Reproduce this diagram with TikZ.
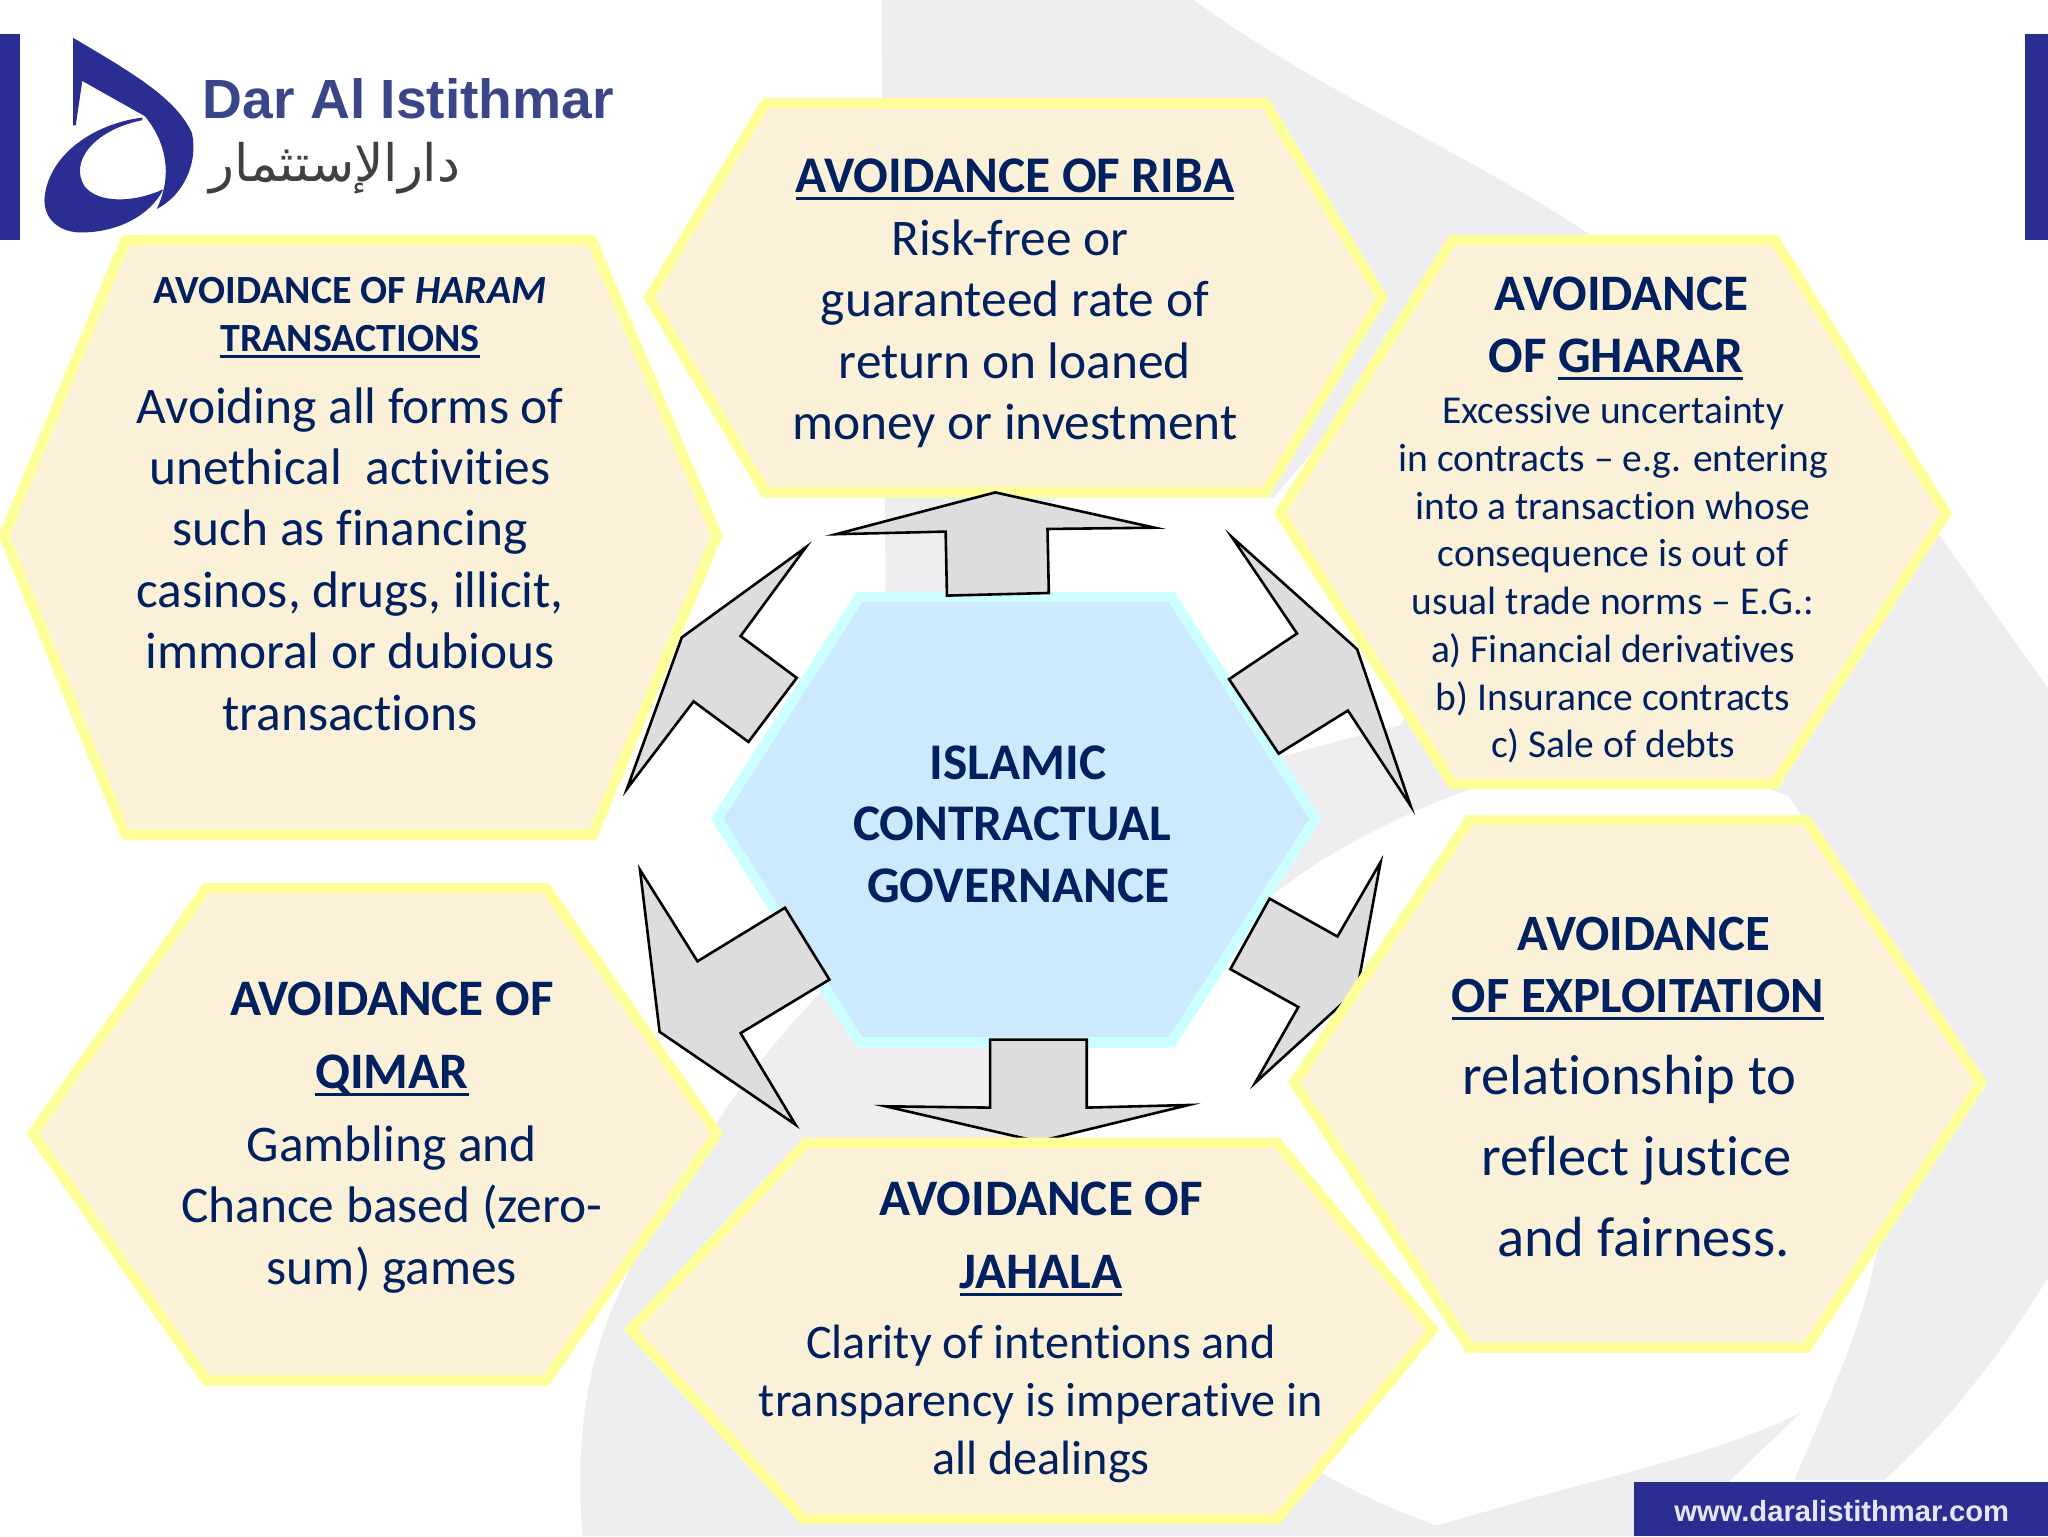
\documentclass[tikz,border=0pt]{standalone}
\usepackage{fontspec}
\setmainfont{Carlito}[Ligatures=NoCommon]
\newfontfamily\logofont{Liberation Sans}
\newfontfamily\arabicfont[Script=Arabic]{DejaVu Sans}
\TeXXeTstate=1
\newsavebox\ULbox
\newcommand\UL[1]{\sbox\ULbox{#1}\rlap{\rule[-3.6pt]{\wd\ULbox}{1.5pt}}\usebox\ULbox}
\definecolor{navy}{HTML}{002060}
\definecolor{parchment}{HTML}{FBF1D8}
\definecolor{hexyellow}{HTML}{FFFF99}
\definecolor{hexblue}{HTML}{CCE9FD}
\definecolor{hexcyan}{HTML}{CCFFFF}
\definecolor{arrowgrey}{HTML}{DDDDDF}
\definecolor{markgrey}{HTML}{EEEEF0}
\definecolor{brandblue}{HTML}{2A2E92}
\definecolor{brandtext}{HTML}{3A4688}
\begin{document}
\begin{tikzpicture}[x=0.65306pt, y=-0.65306pt,
  hexface/.style={draw=hexyellow, fill=parchment, line width=5.2pt, miter limit=10},
  hexcore/.style={draw=hexcyan, fill=hexblue, line width=5.2pt},
  blockarrow/.style={draw=black, fill=arrowgrey, line width=1.3pt, miter limit=20},
  brandbar/.style={fill=brandblue},
  bodytext/.style={text=navy, align=center, inner sep=0pt, font=\fontsize{25.7}{30.7}\selectfont},
  headtext/.style={bodytext, font=\bfseries\fontsize{25.7}{30.7}\selectfont},
  headgap/.style={bodytext, font=\bfseries\fontsize{25.6}{36.6}\selectfont},
  smallhead/.style={bodytext, font=\bfseries\fontsize{20}{23.7}\selectfont},
  smalltext/.style={bodytext, font=\fontsize{19.75}{23.85}\selectfont}]

  \newcommand\LS[1]{\hspace*{#1pt}}

  \useasboundingbox (0,0) rectangle (1568,1176);
  \fill[white] (0,0) rectangle (1568,1176);

  \fill[markgrey] (675,0) -- (914,0)
  .. controls (1010,70) and (1110,110) .. (1212,176)
  .. controls (1320,250) and (1420,320) .. (1485,410)
  -- (1568,527) -- (1568,978)
  .. controls (1530,1040) and (1490,1090) .. (1443,1133)
  -- (1374,1133)
  .. controls (1400,1070) and (1425,1020) .. (1436,962)
  .. controls (1460,830) and (1440,720) .. (1370,610)
  .. controls (1300,580) and (1200,575) .. (1118,607)
  .. controls (1070,625) and (1020,650) .. (980,681)
  .. controls (920,720) and (860,760) .. (825,802)
  -- (790,850)
  .. controls (770,900) and (900,1100) .. (1100,1168)
  -- (1149,1154)
  .. controls (1230,1130) and (1310,1115) .. (1378,1082)
  -- (1325,1133) -- (1290,1176) -- (446,1176)
  .. controls (440,1100) and (450,1040) .. (475,988)
  .. controls (495,940) and (520,900) .. (549,860)
  .. controls (570,825) and (600,790) .. (628,760)
  .. controls (720,660) and (860,600) .. (982,579)
  .. controls (1015,570) and (1045,562) .. (1072,555)
  -- (1110,500) -- (1040,330) -- (1010,340)
  -- (975,381) -- (820,370) -- (790,400) -- (770,456)
  -- (678,460) -- cycle;

  \fill[brandbar] (0,26) rectangle (15,184);
  \fill[brandbar] (1550,26) rectangle (1568,184);
  \fill[brandbar] (1251,1135) rectangle (1568,1176);
  \node[inner sep=0pt, text=white!88!brandblue, font=\logofont\bfseries\fontsize{14.6}{18}\selectfont]
    (siteurl) at (1410,1157) {www.daralistithmar.com};

  \fill[brandbar] (56,29) .. controls (100,55) and (135,75) .. (147,102)
  .. controls (152,125) and (140,150) .. (120,160)
  .. controls (132,135) and (128,110) .. (111,89)
  -- (63,62) -- (58,96) -- (56,96) -- cycle;
  \fill[brandbar] (109,90) .. controls (70,95) and (36,120) .. (34,153)
  .. controls (34,170) and (48,178) .. (62,178)
  .. controls (90,178) and (115,165) .. (125,145)
  .. controls (100,156) and (75,155) .. (65,143)
  .. controls (53,125) and (70,100) .. (109,92) -- cycle;

  \node[inner sep=0pt, anchor=base west, text=brandtext, font=\logofont\bfseries\fontsize{27.6}{28}\selectfont]
    (brandname) at (155,91) {Dar Al Istithmar};
  \node[inner sep=0pt, anchor=base west, text=black!75, font=\arabicfont\fontsize{25.8}{28}\selectfont]
    (brandarabic) at (160,139) {\beginR دارالإستثمار\endR};

  \draw[hexface] (586,79) -- (969,79) -- (1058,228) -- (969,377) -- (586,377) -- (497,228) -- cycle;
  \draw[hexface] (1112,184) -- (1359,184) -- (1490,393) -- (1359,600) -- (1112,600) -- (980,393) -- cycle;
  \draw[hexface] (96,184) -- (453,184) -- (549,410) -- (454,639) -- (96,639) -- (3,410) -- cycle;
  \draw[hexface] (158,680) -- (418,680) -- (549,868) -- (418,1057) -- (158,1057) -- (25,868) -- cycle;
  \draw[hexcore] (658,457) -- (897,457) -- (1007,627) -- (897,798) -- (658,798) -- (549,627) -- cycle;

  \draw[blockarrow] (762,377) -- (884,404) -- (802,405) -- (803,454) -- (725,456) -- (724,407) -- (640,409) -- cycle;
  \draw[blockarrow] (943,411) -- (1039,497) -- (1080,617) -- (1032,544) -- (979,577) -- (941,520) -- (993,485) -- cycle;
  \draw[blockarrow] (1057,660) -- (1039,758) -- (961,829) -- (994,771) -- (942,742) -- (972,688) -- (1024,717) -- cycle;
  \draw[blockarrow] (795,874) -- (910,846) -- (832,848) -- (832,796) -- (758,796) -- (758,848) -- (678,847) -- cycle;
  \draw[blockarrow] (609,861) -- (505,790) -- (490,666) -- (534,736) -- (601,695) -- (635,750) -- (567,791) -- cycle;
  \draw[blockarrow] (617,419) -- (522,488) -- (480,604) -- (531,537) -- (573,568) -- (610,519) -- (567,487) -- cycle;

  \draw[hexface] (617,875) -- (978,875) -- (1097,1018) -- (978,1163) -- (615,1163) -- (483,1018) -- cycle;
  \draw[hexface] (1125,628) -- (1383,628) -- (1517,829) -- (1383,1032) -- (1125,1032) -- (991,829) -- cycle;

  \node[headtext] (coretitle) at (775,631) {\LS{6}ISLAMIC\\CONTRACTUAL\\\LS{6}GOVERNANCE};

  \node[headtext] (ribatitle) at (777,137.5) {\UL{AVOIDANCE OF RIBA}};
  \node[bodytext] (ribabody) at (777,255.5) {Risk-free or\LS{5}\\guaranteed rate of\LS{5}\\return on loaned\LS{5}\\money or investment};

  \node[headgap, font=\bfseries\fontsize{25.6}{31.3}\selectfont] (ghararhead) at (1237,251.5) {\LS{6}AVOIDANCE\\OF \UL{GHARAR}};
  \node[smalltext] (gharartext) at (1235,444) {Excessive uncertainty\\in contracts – e.g. entering\\into a transaction whose\\consequence is out of\\usual trade norms – E.G.:\\a) Financial derivatives\\b) Insurance contracts\\c) Sale of debts};

  \node[smallhead] (haramhead) at (268,243.5) {AVOIDANCE OF \textit{HARAM}\\\UL{TRANSACTIONS}};
  \node[bodytext] (haramtext) at (268,428) {Avoiding all forms of\\unethical~~activities\\such as financing\\casinos, drugs, illicit,\\immoral or dubious\\transactions};

  \node[headgap] (qimarhead) at (300,795.5) {AVOIDANCE OF\\\UL{QIMAR}};
  \node[bodytext] (qimartext) at (300,926) {Gambling and\\Chance based (zero-\\sum) games};

  \node[headgap] (jahalahead) at (797,948.5) {AVOIDANCE OF\\\UL{JAHALA}};
  \node[bodytext, font=\fontsize{24.1}{29}\selectfont] (jahalatext) at (797,1075) {Clarity of intentions and\\transparency is imperative in\\all dealings};

  \node[headgap, font=\bfseries\fontsize{25.4}{31.3}\selectfont] (exploithead) at (1254,741.5) {\LS{6}AVOIDANCE\\\UL{OF EXPLOITATION}};
  \node[bodytext, font=\fontsize{28.3}{40.6}\selectfont] (exploittext) at (1253,885) {relationship to\LS{7}\\reflect justice\\\LS{7}and fairness.};

\end{tikzpicture}
\end{document}
